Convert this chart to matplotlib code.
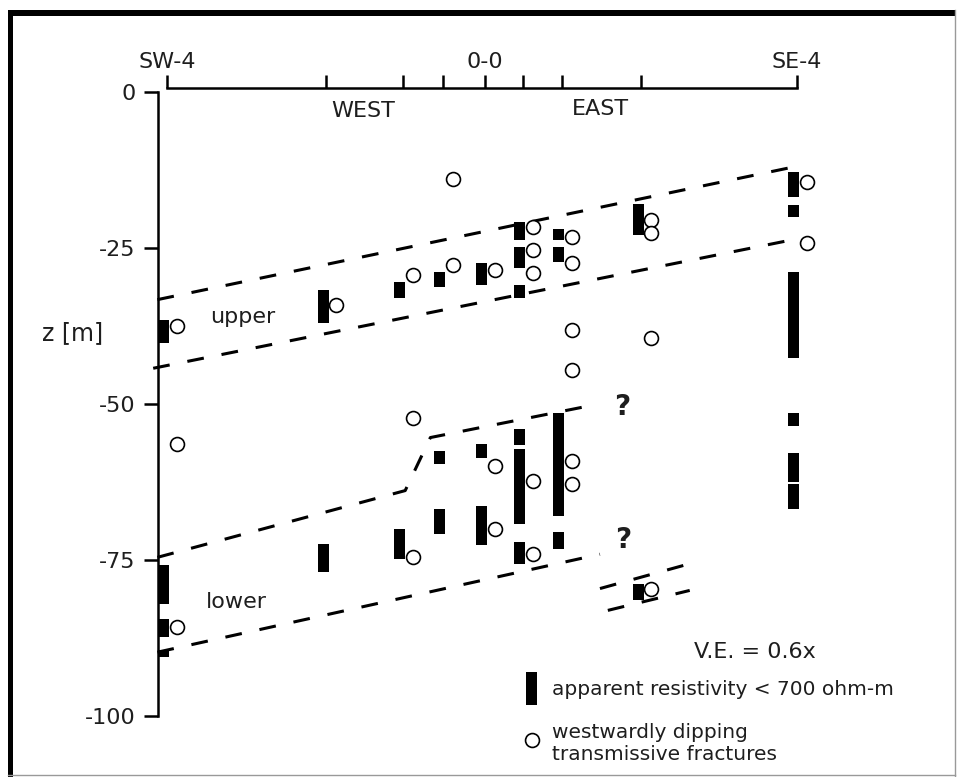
import matplotlib
matplotlib.use("Agg")
import matplotlib.pyplot as plt
from matplotlib.patches import Patch, Rectangle
from matplotlib.lines import Line2D

plt.rcParams['font.family'] = ['DejaVu Sans']

# ---------------- data ----------------
# borehole positions along the section (m, 0-0 at origin)
borehole_x = [-30.3, -15.1, -7.8, -4.0, 0.0, 3.6, 7.3, 14.9, 29.7]
borehole_labels = ["SW-4", "", "", "", "0-0", "", "", "", "SE-4"]

# apparent resistivity < 700 ohm-m intervals: borehole index, top z, bottom z
bar_hole = [0, 0, 0, 0,
            1, 1,
            2, 2,
            3, 3, 3,
            4, 4, 4,
            5, 5, 5, 5, 5, 5,
            6, 6, 6, 6,
            7, 7,
            8, 8, 8, 8, 8, 8]
bar_top = [-36.5, -75.8, -84.4, -89.3,
           -31.7, -72.3,
           -30.4, -69.9,
           -28.8, -57.5, -66.7,
           -27.4, -56.3, -66.3,
           -20.7, -24.8, -30.8, -53.9, -57.1, -72.1,
           -21.8, -24.8, -51.4, -70.5,
           -17.8, -78.7,
           -12.8, -18.1, -28.8, -51.3, -57.7, -62.8]
bar_bottom = [-40.2, -81.9, -87.3, -90.5,
              -36.9, -76.9,
              -33.0, -74.7,
              -31.2, -59.6, -70.7,
              -30.8, -58.5, -72.6,
              -23.6, -28.2, -32.9, -56.5, -69.1, -75.5,
              -23.7, -27.2, -67.8, -73.1,
              -22.9, -81.4,
              -16.8, -20.0, -42.6, -53.4, -62.5, -66.7]

# westwardly dipping transmissive fractures: borehole index, z
circle_hole = [0, 0, 0,
               1,
               2, 2, 2,
               3, 3,
               4, 4, 4,
               5, 5, 5, 5, 5,
               6, 6, 6, 6, 6, 6,
               7, 7, 7, 7,
               8, 8]
circle_z = [-37.4, -56.3, -85.7,
            -34.1,
            -29.3, -52.1, -74.5,
            -13.9, -27.7,
            -28.5, -59.9, -70.0,
            -21.6, -25.2, -29.0, -62.2, -74.0,
            -23.2, -27.4, -38.1, -44.5, -59.0, -62.7,
            -20.5, -22.6, -39.3, -79.5,
            -14.4, -24.2]

# interpreted fracture-zone boundaries (x, z)
upper_top_x, upper_top_z = [-31.2, 29.5], [-33.2, -11.9]
upper_bot_x, upper_bot_z = [-31.6, 29.3], [-44.2, -23.6]
lower_top_x, lower_top_z = [-31.2, -7.6, -5.2, 10.0], [-74.5, -63.8, -55.3, -50.2]
lower_bot_x, lower_bot_z = [-31.2, 10.95], [-89.7, -74.0]
short_a_x, short_a_z = [10.95, 18.9], [-79.5, -75.8]
short_b_x, short_b_z = [11.7, 19.5], [-83.0, -79.8]

z_ticks = [0, -25, -50, -75, -100]
z_tick_labels = ["0", "-25", "-50", "-75", "-100"]

# ---------------- figure ----------------
W, H = 958, 777
fig = plt.figure(figsize=(W / 100, H / 100), dpi=100)
ax = fig.add_axes([0, 0, 1, 1])
ax.patch.set_visible(False)
ax.set_xlim(-46.19, 45.05)
ax.set_ylim(-109.70, 14.82)

txt_color = '#1e1e1e'
FS = 16
BAR_OFF = -0.3
CIRC_OFF = 0.95

bx = [borehole_x[i] + BAR_OFF for i in bar_hole]
bh = [t - b for t, b in zip(bar_top, bar_bottom)]
ax.bar(bx, bh, bottom=bar_bottom, width=1.05, color='black', linewidth=0, zorder=3)

cx = [borehole_x[i] + CIRC_OFF for i in circle_hole]
ax.plot(cx, circle_z, 'o', ms=10, mfc='white', mec='black', mew=1.2, ls='none', zorder=4)

dash = (0, (5.5, 5.9))
for xs, zs in [(upper_top_x, upper_top_z), (upper_bot_x, upper_bot_z),
               (lower_top_x, lower_top_z), (lower_bot_x, lower_bot_z),
               (short_a_x, short_a_z), (short_b_x, short_b_z)]:
    ax.plot(xs, zs, color='black', lw=2.2, linestyle=dash, zorder=2)

# axes / spines
for s in ['right', 'bottom']:
    ax.spines[s].set_visible(False)
ax.spines['left'].set_position(('data', -31.14))
ax.spines['left'].set_bounds(-100, 0)
ax.spines['left'].set_linewidth(1.8)
ax.spines['top'].set_position(('data', 0.72))
ax.spines['top'].set_bounds(borehole_x[0], borehole_x[-1])
ax.spines['top'].set_linewidth(1.8)

ax.xaxis.set_ticks_position('top')
ax.set_xticks(borehole_x)
ax.set_xticklabels(borehole_labels)
ax.tick_params(axis='x', direction='out', length=9.5, width=1.8, pad=2,
               labelsize=FS, labelcolor=txt_color)
ax.set_yticks(z_ticks)
ax.set_yticklabels(z_tick_labels)
ax.tick_params(axis='y', direction='out', length=10, width=1.8, pad=6,
               labelsize=FS, labelcolor=txt_color)

# annotations
ax.text(-11.57, -3.9, "WEST", ha='center', va='baseline', fontsize=FS, color=txt_color)
ax.text(11.0, -3.6, "EAST", ha='center', va='baseline', fontsize=FS, color=txt_color)
ax.text(-39.3, -39.7, "z [m]", ha='center', va='baseline', fontsize=17, color=txt_color)
ax.text(-23.1, -36.9, "upper", ha='center', va='baseline', fontsize=FS, color=txt_color)
ax.text(-23.7, -82.6, "lower", ha='center', va='baseline', fontsize=FS, color=txt_color)
ax.text(13.05, -50.4, "?", ha='center', va='center', fontsize=20, fontweight='bold', color=txt_color)
ax.text(13.2, -71.7, "?", ha='center', va='center', fontsize=20, fontweight='bold', color=txt_color)
ax.text(25.7, -90.6, "V.E. = 0.6x", ha='center', va='baseline', fontsize=16, color=txt_color)

handles = [Patch(facecolor='black', edgecolor='none'),
           Line2D([], [], marker='o', ms=10, mfc='white', mec='black', mew=1.2, ls='none')]
labels = ["apparent resistivity < 700 ohm-m", "westwardly dipping\ntransmissive fractures"]
leg = ax.legend(handles, labels, loc='upper left', frameon=False, fontsize=14.5,
                bbox_to_anchor=(526 / W, 1 - 672 / H), bbox_transform=fig.transFigure,
                borderpad=0, handlelength=0.55, handleheight=2.15, handletextpad=0.75,
                labelspacing=0.9, borderaxespad=0)
for t in leg.get_texts():
    t.set_color(txt_color)

# frame around the picture
fig.patches.append(Rectangle((8 / W, 1 - 16 / H), (955 - 8) / W, 6 / H,
                             transform=fig.transFigure, facecolor='black', edgecolor='none'))
fig.patches.append(Rectangle((8 / W, 0), 5 / W, (H - 10) / H,
                             transform=fig.transFigure, facecolor='black', edgecolor='none'))
fig.add_artist(Line2D([955 / W, 955 / W], [0, 1 - 10 / H], transform=fig.transFigure,
                      color='#999999', lw=1))
fig.add_artist(Line2D([8 / W, 955 / W], [1 - 775 / H, 1 - 775 / H], transform=fig.transFigure,
                      color='#999999', lw=1))

fig.savefig("out.png", dpi=100)
